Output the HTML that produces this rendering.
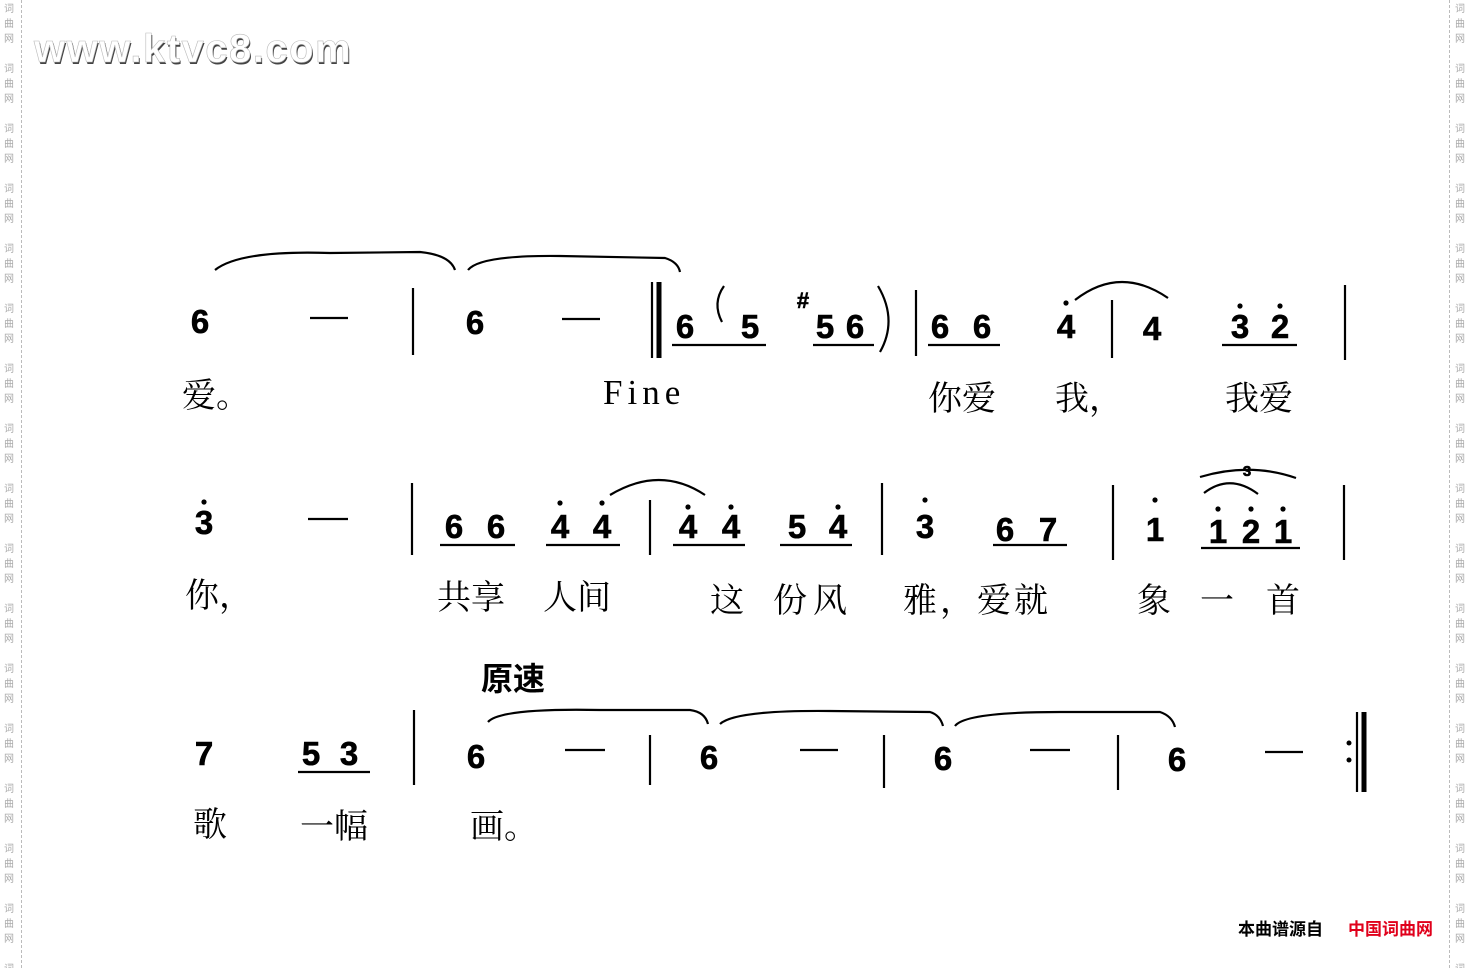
<!DOCTYPE html>
<html><head><meta charset="utf-8"><style>
html,body{margin:0;padding:0;background:#fff;width:1470px;height:968px;overflow:hidden;position:relative}
.side{position:absolute;top:0;font:10px "Noto Sans CJK SC",sans-serif;color:#aaa;line-height:15px;width:12px;text-align:center}
.dl{position:absolute;top:0;height:968px;border-left:1px dashed #bbb}
svg{position:absolute;left:0;top:0}
.n{font:bold 33px "Liberation Sans",sans-serif;fill:#000;text-anchor:middle;stroke:#000;stroke-width:0.6}
.l{font:34px "Noto Serif CJK SC","Noto Sans CJK SC",serif;fill:#000}
</style></head><body>
<div class="dl" style="left:21px"></div><div class="dl" style="left:1449px"></div>
<div class="side" style="left:3px">词<br>曲<br>网<br><br>词<br>曲<br>网<br><br>词<br>曲<br>网<br><br>词<br>曲<br>网<br><br>词<br>曲<br>网<br><br>词<br>曲<br>网<br><br>词<br>曲<br>网<br><br>词<br>曲<br>网<br><br>词<br>曲<br>网<br><br>词<br>曲<br>网<br><br>词<br>曲<br>网<br><br>词<br>曲<br>网<br><br>词<br>曲<br>网<br><br>词<br>曲<br>网<br><br>词<br>曲<br>网<br><br>词<br>曲<br>网<br><br>词<br>曲<br>网</div>
<div class="side" style="left:1454px">词<br>曲<br>网<br><br>词<br>曲<br>网<br><br>词<br>曲<br>网<br><br>词<br>曲<br>网<br><br>词<br>曲<br>网<br><br>词<br>曲<br>网<br><br>词<br>曲<br>网<br><br>词<br>曲<br>网<br><br>词<br>曲<br>网<br><br>词<br>曲<br>网<br><br>词<br>曲<br>网<br><br>词<br>曲<br>网<br><br>词<br>曲<br>网<br><br>词<br>曲<br>网<br><br>词<br>曲<br>网<br><br>词<br>曲<br>网<br><br>词<br>曲<br>网</div>
<svg width="1470" height="968" viewBox="0 0 1470 968">
<text x="35" y="64" font-family="Liberation Sans" font-weight="bold" font-size="40" fill="#444" letter-spacing="1.5">www.ktvc8.com</text>
<text x="34" y="62" font-family="Liberation Sans" font-weight="bold" font-size="40" fill="#fff" stroke="#bbb" stroke-width="0.6" letter-spacing="1.5">www.ktvc8.com</text>
<g stroke="#000" fill="none" stroke-width="2.2">
<path d="M215 270 Q240 250 330 253 L420 252 Q450 255 455 270"/>
<path d="M468 270 Q480 255 560 256 L665 258 Q678 262 680 272"/>
<path d="M1075 300 Q1120 265 1168 298"/>
<line x1="310" y1="318" x2="348" y2="318"/><line x1="562" y1="319" x2="600" y2="319"/>
<line x1="413" y1="288" x2="413" y2="355"/><line x1="652" y1="282" x2="652" y2="358"/>
<line x1="659" y1="282" x2="659" y2="358" stroke-width="5"/>
<line x1="916" y1="290" x2="916" y2="356"/><line x1="1112" y1="300" x2="1112" y2="358"/><line x1="1345" y1="285" x2="1345" y2="360"/>
<line x1="672" y1="345" x2="766" y2="345"/><line x1="813" y1="345" x2="874" y2="345"/><line x1="928" y1="345" x2="1000" y2="345"/><line x1="1222" y1="345" x2="1297" y2="345"/>
<path d="M724 286 Q712 303 722 322"/><path d="M878 286 Q898 320 880 352"/>
<line x1="308" y1="519" x2="348" y2="519"/>
<line x1="412" y1="483" x2="412" y2="555"/><line x1="650" y1="500" x2="650" y2="555"/><line x1="882" y1="483" x2="882" y2="555"/><line x1="1113" y1="485" x2="1113" y2="560"/><line x1="1344" y1="485" x2="1344" y2="560"/>
<line x1="440" y1="545" x2="515" y2="545"/><line x1="546" y1="545" x2="620" y2="545"/><line x1="673" y1="545" x2="745" y2="545"/><line x1="780" y1="545" x2="852" y2="545"/><line x1="993" y1="545" x2="1067" y2="545"/><line x1="1201" y1="548" x2="1300" y2="548"/>
<path d="M610 495 Q660 465 705 495"/>
<path d="M1200 477 Q1250 462 1296 478"/><path d="M1204 493 Q1230 473 1258 494"/>
<line x1="414" y1="710" x2="414" y2="785"/><line x1="650" y1="735" x2="650" y2="785"/><line x1="884" y1="735" x2="884" y2="788"/><line x1="1118" y1="735" x2="1118" y2="790"/>
<line x1="1357" y1="712" x2="1357" y2="792"/><line x1="1364" y1="712" x2="1364" y2="792" stroke-width="5"/>
<line x1="298" y1="772" x2="370" y2="772"/>
<line x1="565" y1="750" x2="605" y2="750"/><line x1="800" y1="750" x2="838" y2="750"/><line x1="1030" y1="750" x2="1070" y2="750"/><line x1="1265" y1="752" x2="1303" y2="752"/>
<path d="M488 722 Q500 708 600 710 L690 710 Q705 712 708 724"/>
<path d="M720 724 Q735 710 830 711 L930 712 Q940 715 943 726"/>
<path d="M955 726 Q965 712 1060 712 L1160 712 Q1172 716 1175 727"/>
</g>
<g fill="#000"><circle cx="1349" cy="743" r="2.5"/><circle cx="1349" cy="760" r="2.5"/>
<circle cx="1066" cy="303" r="2.6"/><circle cx="1240" cy="306" r="2.6"/><circle cx="1280" cy="306" r="2.6"/>
<circle cx="204" cy="502" r="2.6"/><circle cx="560" cy="503" r="2.6"/><circle cx="602" cy="503" r="2.6"/><circle cx="688" cy="507" r="2.6"/><circle cx="731" cy="507" r="2.6"/><circle cx="838" cy="507" r="2.6"/><circle cx="925" cy="500" r="2.6"/><circle cx="1155" cy="500" r="2.6"/><circle cx="1218" cy="509" r="2.6"/><circle cx="1251" cy="509" r="2.6"/><circle cx="1283" cy="509" r="2.6"/></g>
<g class="n">
<text class="n" x="200" y="333">6</text><text class="n" x="475" y="334">6</text><text class="n" x="685" y="338">6</text><text class="n" x="750" y="338">5</text>
<text x="803" y="308" style="font:bold 22px 'Liberation Sans'">#</text>
<text class="n" x="825" y="338">5</text><text class="n" x="855" y="338">6</text><text class="n" x="940" y="338">6</text><text class="n" x="982" y="338">6</text><text class="n" x="1066" y="338">4</text><text class="n" x="1152" y="340">4</text><text class="n" x="1240" y="338">3</text><text class="n" x="1280" y="338">2</text>
<text class="n" x="204" y="534">3</text><text class="n" x="454" y="538">6</text><text class="n" x="496" y="538">6</text><text class="n" x="560" y="538">4</text><text class="n" x="602" y="538">4</text><text class="n" x="688" y="538">4</text><text class="n" x="731" y="538">4</text><text class="n" x="797" y="538">5</text><text class="n" x="838" y="538">4</text><text class="n" x="925" y="538">3</text><text class="n" x="1005" y="541">6</text><text class="n" x="1048" y="541">7</text><text class="n" x="1155" y="541">1</text><text class="n" x="1218" y="543">1</text><text class="n" x="1251" y="543">2</text><text class="n" x="1283" y="543">1</text>
<text x="1247" y="476" style="font:bold 15px 'Liberation Sans'">3</text>
<text class="n" x="204" y="765">7</text><text class="n" x="311" y="765">5</text><text class="n" x="349" y="765">3</text><text class="n" x="476" y="768">6</text><text class="n" x="709" y="769">6</text><text class="n" x="943" y="770">6</text><text class="n" x="1177" y="771">6</text>
</g>
<g class="l">
<text class="l" x="182" y="407">爱。</text>
<text x="603" y="404" style="font:35px 'Liberation Serif',serif" letter-spacing="5">Fine</text>
<text class="l" x="928" y="410">你爱</text><text class="l" x="1055" y="410">我，</text><text class="l" x="1225" y="410">我爱</text>
<text class="l" x="185" y="607">你，</text><text class="l" x="437" y="609">共享</text><text class="l" x="543" y="609">人间</text><text class="l" x="710" y="612">这</text><text class="l" x="773" y="612" letter-spacing="6">份风</text><text class="l" x="903" y="612" letter-spacing="3">雅，爱就</text><text class="l" x="1137" y="612">象</text><text class="l" x="1200" y="612">一</text><text class="l" x="1266" y="612">首</text>
<text class="l" x="193" y="836">歌</text><text class="l" x="300" y="838">一幅</text><text class="l" x="470" y="838">画。</text>
</g>
<text x="481" y="690" style="font:bold 32px 'Noto Sans CJK SC',sans-serif">原速</text>
<text x="1238" y="935" style="font:bold 17px 'Noto Sans CJK SC',sans-serif">本曲谱源自</text>
<text x="1348" y="935" style="font:bold 17px 'Noto Sans CJK SC',sans-serif" fill="#e0001b">中国词曲网</text>
</svg>
</body></html>
